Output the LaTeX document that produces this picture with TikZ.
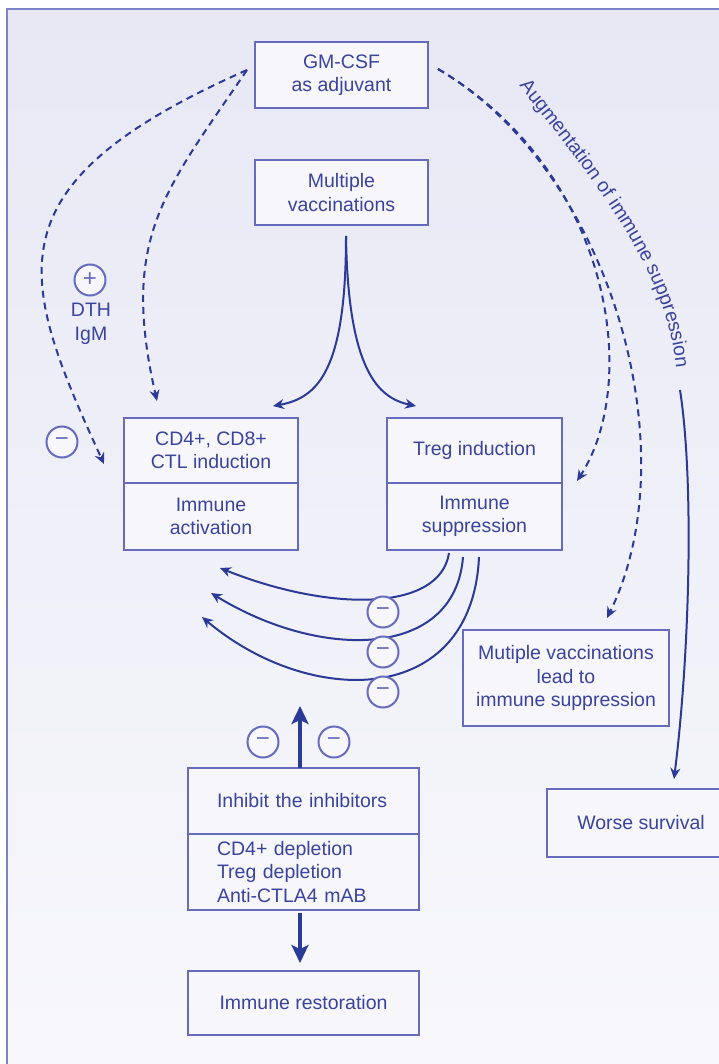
\documentclass[tikz,border=0pt]{standalone}
\usepackage{fontspec}
\setmainfont{Liberation Sans}
\usetikzlibrary{arrows.meta,calc,decorations.text}
\definecolor{txt}{HTML}{3A439D}
\definecolor{ln}{HTML}{2C3A97}
\definecolor{boxc}{HTML}{666BBE}
\definecolor{boxfill}{HTML}{F6F6FB}
\definecolor{bgtop}{HTML}{E7E8F4}
\definecolor{bgmid}{HTML}{ECECF7}
\definecolor{bgbot}{HTML}{F8F8FC}
\newcommand\bfnt{\fontsize{19.5}{23.5}\selectfont}
\newcommand\labfont{\fontsize{19.5}{20}\selectfont\color{txt}}
\begin{document}
\begin{tikzpicture}[x=1pt,y=-1pt,
  box/.style={draw=boxc, line width=2.8pt, fill=boxfill, text=txt, font=\bfnt, align=center, inner sep=0pt, outer sep=0pt},
  sign/.style={circle, draw=boxc, line width=2pt, fill=boxfill, text=boxc, minimum size=31pt, inner sep=0pt, font=\fontsize{24}{24}\selectfont},
  conn/.style={draw=ln, line width=2pt, -{Stealth[length=11pt,width=10pt]}},
  dconn/.style={conn, dash pattern=on 7pt off 5pt},
  bigarrow/.style={draw=ln, line width=4.5pt, -{Stealth[length=18pt,width=17pt,inset=4pt]}},
  lbl/.style={text=txt, font=\bfnt, inner sep=0pt, align=center}
]
\useasboundingbox (0,0) rectangle (718,1064);
\fill[white] (0,0) rectangle (718,1064);
\shade[top color=bgtop, middle color=bgmid, bottom color=bgbot] (7,9) rectangle (730,1075);
\draw[boxc!85, line width=1.5pt] (7,1075) -- (7,9) -- (730,9);

% boxes
\node[box, minimum width=173pt, minimum height=66pt] (gm) at (341.5,75) {GM-CSF\\as adjuvant};
\node[box, minimum width=173pt, minimum height=65pt] (mv) at (341.5,192.5) {Multiple\\vaccinations};
\node[box, minimum width=174pt, minimum height=65pt] (cda) at (211,450.5) {CD4+, CD8+\\CTL induction};
\node[box, minimum width=174pt, minimum height=67pt, anchor=north] (cdb) at (cda.south) {Immune\\activation};
\node[box, minimum width=175pt, minimum height=65pt] (tga) at (474.5,450.5) {Treg induction};
\node[box, minimum width=175pt, minimum height=67pt, anchor=north] (tgb) at (tga.south) {Immune\\suppression};
\node[box, minimum width=206pt, minimum height=96pt] (mvl) at (566,678) {Mutiple vaccinations\\lead to\\immune suppression};
\node[box, minimum width=188pt, minimum height=68pt] (ws) at (641,823) {Worse survival};
\node[box, minimum width=231pt, minimum height=66pt, text width=173pt, align=left] (iha) at (303.5,801) {Inhibit the inhibitors};
\node[box, minimum width=231pt, minimum height=76pt, text width=173pt, align=left, anchor=north] (ihb) at (iha.south) {CD4+ depletion\\Treg depletion\\Anti-CTLA4 mAB};
\node[box, minimum width=231pt, minimum height=64pt] (ir) at (303.5,1003) {Immune restoration};

% coordinates
\coordinate (gL) at ($(gm.west)+(-8,-5)$);
\coordinate (gR) at ($(gm.east)+(10,-6)$);
\coordinate (a1) at (104,464);
\coordinate (a2) at (157,401);
\coordinate (a3) at (577,481);
\coordinate (a4) at (607,618);
\coordinate (sp) at ($(mv.south)+(4.5,11)$);
\coordinate (t1) at (273,406);
\coordinate (t2) at (416,406);
\coordinate (r1) at (449,553);
\coordinate (r2) at (463,557);
\coordinate (r3) at (479,557);
\coordinate (q1) at (220,568);
\coordinate (q2) at (211,593);
\coordinate (q3) at (202,617);
\coordinate (s0) at (680,390);
\coordinate (a5) at ($(ws.north)+(33,-10)$);

% dashed connectors from GM-CSF
\draw[dconn] (gL) .. controls (-13,185) and (18,276) .. (a1);
\draw[dconn] (gL) .. controls (164,192) and (120,238) .. (a2);
\draw[dconn] (gR) .. controls (610,170) and (642,380) .. (a3);
\draw[dconn] (gR) .. controls (610,170) and (690,450) .. (a4);

% label along curve
\path[decorate, decoration={text along path, text align=left, text={|\labfont|Augmentation of immune suppression}}]
  (519,86) .. controls (606,194) and (666,275) .. (676,366) -- (680,440);

% worse survival
\draw[conn] (s0) .. controls (694,480) and (690,650) .. (a5);

% split from multiple vaccinations
\draw[conn] (sp) .. controls (346,370) and (318,398) .. (t1);
\draw[conn] (sp) .. controls (348,370) and (378,398) .. (t2);

% suppression arcs
\draw[conn] (r1) .. controls (440,612) and (330,612) .. (q1);
\draw[conn] (r2) .. controls (455,660) and (320,660) .. (q2);
\draw[conn] (r3) .. controls (472,708) and (310,708) .. (q3);

% signs
\node[sign] (m1) at (383,612) {−};
\node[sign] (m2) at (383,652) {−};
\node[sign] (m3) at (383,692) {−};
\node[sign] (m4) at (263,742) {−};
\node[sign] (m5) at (334,742) {−};
\node[sign] (mL) at (62,442) {−};
\node[sign] (p1) at (90,280) {+};
\node[lbl, anchor=north] (dth) at (91,303) {DTH\\IgM};

% big arrows
\coordinate (up) at (300,706);
\draw[bigarrow] (iha.north -| up) -- (up);
\draw[bigarrow] ($(ihb.south)+(-3.5,3)$) -- ($(ir.north)+(-3.5,-8)$);
\end{tikzpicture}
\end{document}
